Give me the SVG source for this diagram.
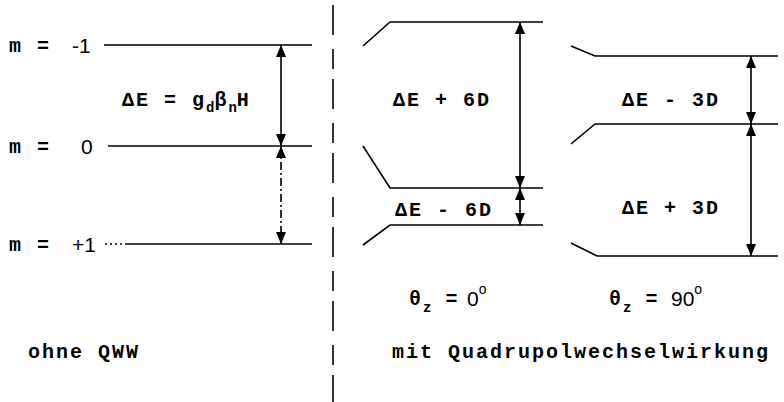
<svg xmlns="http://www.w3.org/2000/svg" width="784" height="402" viewBox="0 0 784 402">
<style>
.lv{fill:none;stroke:#000;stroke-width:1.6}
.ar{fill:none;stroke:#000;stroke-width:1.6;marker-start:url(#ah);marker-end:url(#ah)}
.tw{font-family:"Liberation Mono","DejaVu Sans Mono",monospace;font-weight:bold;font-size:20px;letter-spacing:2px;fill:#000}
.sm{font-size:14px;letter-spacing:0}
.sn{font-family:"Liberation Sans",Arial,sans-serif;font-size:21px;fill:#000}
.dv{fill:none;stroke:#000;stroke-width:1.6;stroke-dasharray:30 14 20 10}
</style>
<defs>
<marker id="ah" viewBox="0 0 12 10" refX="12" refY="5" markerWidth="12" markerHeight="10" markerUnits="userSpaceOnUse" orient="auto-start-reverse">
<path d="M0,0 L12,5 L0,10 z" fill="#000"/>
</marker>
</defs>
<rect width="784" height="402" fill="#fff"/>
<line class="dv" x1="333" y1="5" x2="333" y2="402"/>
<g id="left-m-1">
<line class="lv" x1="104" y1="45" x2="312" y2="45"/>
<text class="tw" x="9" y="52" letter-spacing="3">m =</text><text class="sn" x="72" y="53">-1</text>
</g>
<g id="left-m0">
<line class="lv" x1="108" y1="146" x2="312" y2="146"/>
<text class="tw" x="9" y="153" letter-spacing="3">m =</text><text class="sn" x="81" y="154">0</text>
</g>
<g id="left-m+1">
<line class="lv" x1="105" y1="244" x2="124" y2="244" stroke-dasharray="2 3"/>
<line class="lv" x1="125" y1="244" x2="312" y2="244"/>
<text class="tw" x="9" y="251" letter-spacing="3">m =</text><text class="sn" x="72" y="252">+1</text>
</g>
<g id="left-label">
<text class="tw" x="122" y="106" font-size="18">ΔE = g<tspan class="sm" dy="6">d</tspan><tspan dy="-6">β</tspan><tspan class="sm" dy="6">n</tspan><tspan dy="-6">H</tspan></text>
</g>
<g id="mid-top"><polyline class="lv" points="363,46 390,22 543,22"/></g>
<g id="mid-mid"><polyline class="lv" points="363,146 390,188 543,188"/></g>
<g id="mid-bot"><polyline class="lv" points="363,245 390,225 543,225"/></g>
<g id="right-top"><polyline class="lv" points="571,46 595,56 778,56"/></g>
<g id="right-mid"><polyline class="lv" points="571,144 595,124 778,124"/></g>
<g id="right-bot"><polyline class="lv" points="571,243 597,256 778,256"/></g>
<g id="connectors">
<line class="ar" x1="281" y1="45" x2="281" y2="146"/>
<line class="ar" x1="281" y1="146" x2="281" y2="244" stroke-dasharray="8 3 2 3"/>
<line class="ar" x1="520" y1="22" x2="520" y2="188"/>
<line class="ar" x1="520" y1="188" x2="520" y2="225"/>
<line class="ar" x1="751" y1="56" x2="751" y2="124"/>
<line class="ar" x1="751" y1="124" x2="751" y2="256"/>
</g>
<g id="labels">
<text class="tw" x="393" y="106">ΔE + 6D</text>
<text class="tw" x="395" y="216">ΔE - 6D</text>
<text class="tw" x="622" y="106">ΔE - 3D</text>
<text class="tw" x="622" y="214">ΔE + 3D</text>
<text class="tw" x="409" y="305">θ<tspan class="sm" dy="7">z</tspan><tspan dy="-7"> =</tspan></text><text class="sn" x="467" y="306">0<tspan font-size="14" dy="-12">o</tspan></text>
<text class="tw" x="609" y="305">θ<tspan class="sm" dy="7">z</tspan><tspan dy="-7"> =</tspan></text><text class="sn" x="671" y="306">90<tspan font-size="14" dy="-12">o</tspan></text>
<text class="tw" x="28" y="358">ohne QWW</text>
<text class="tw" x="392" y="358">mit Quadrupolwechselwirkung</text>
</g>
</svg>
